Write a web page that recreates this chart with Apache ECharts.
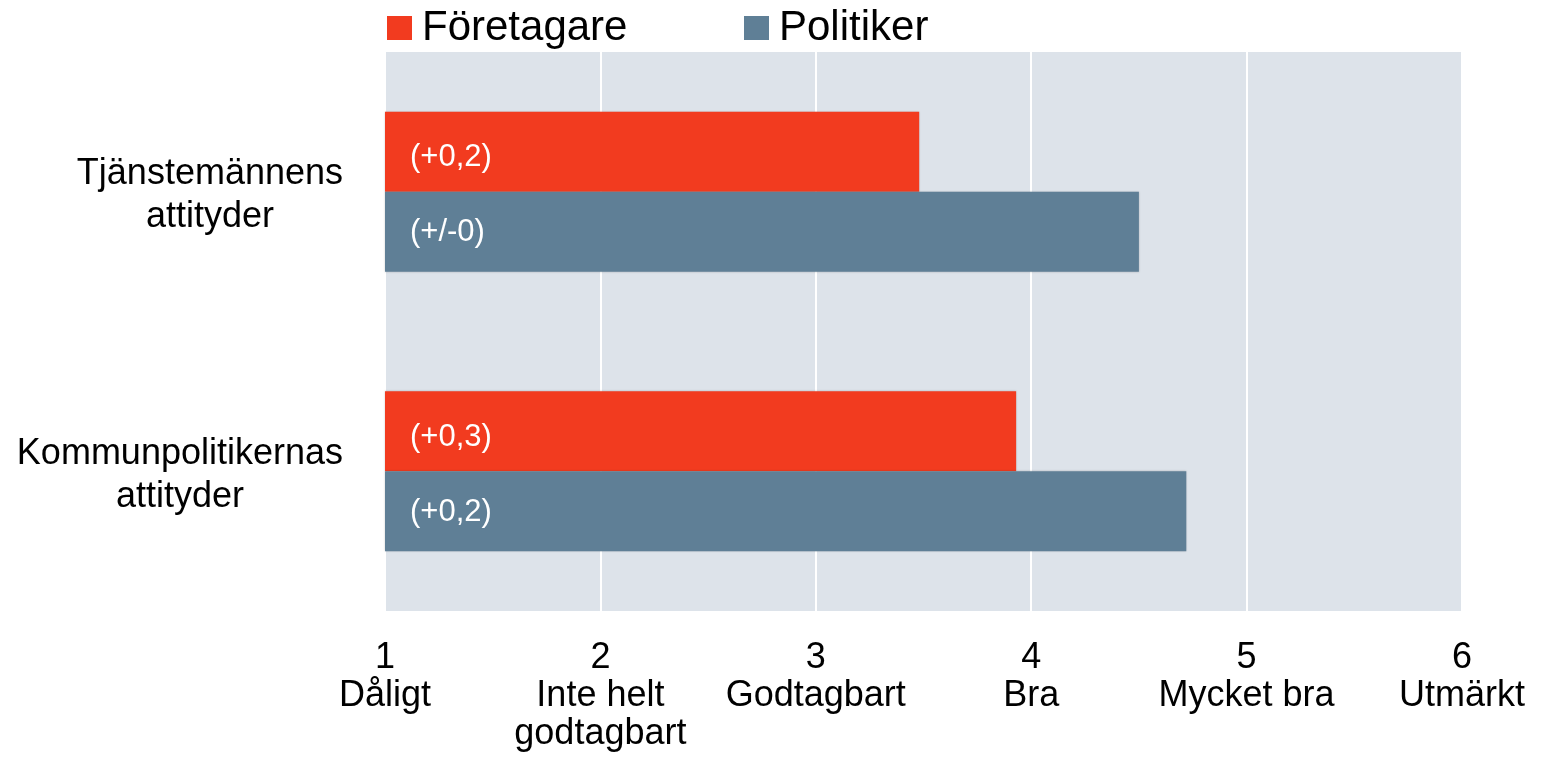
<!DOCTYPE html>
<html>
<head>
<meta charset="utf-8">
<script src="https://cdn.jsdelivr.net/npm/echarts@6/dist/echarts.min.js"></script>
<style>
  html, body { margin: 0; padding: 0; background: #fff; }
  #chart { width: 1546px; height: 763px; }
</style>
</head>
<body>
<div id="chart"></div>
<script>
var categories = ['Tjänstemännens\nattityder', 'Kommunpolitikernas\nattityder'];
var foretagare = [3.48, 3.93];
var politiker = [4.50, 4.72];
var foretagareLabels = ['(+0,2)', '(+0,3)'];
var politikerLabels = ['(+/-0)', '(+0,2)'];
var scaleLabels = { 1: 'Dåligt', 2: 'Inte helt\ngodtagbart', 3: 'Godtagbart', 4: 'Bra', 5: 'Mycket bra', 6: 'Utmärkt' };

var font = 'Liberation Sans, Arial, sans-serif';
var chart = echarts.init(document.getElementById('chart'));

function barLabel(texts, dy) {
    return {
        show: true,
        position: 'insideLeft',
        distance: 25,
        offset: [0, dy],
        color: '#fff',
        fontSize: 31,
        fontFamily: font,
        formatter: function (p) { return texts[p.dataIndex]; }
    };
}

function legendAt(x, name) {
    return {
        left: x, top: 3, padding: 0,
        itemWidth: 25, itemHeight: 24,
        icon: 'rect',
        textStyle: { fontSize: 42, lineHeight: 44, color: '#000', padding: [6, 0, 0, 5] },
        data: [name]
    };
}

chart.setOption({
    animation: false,
    textStyle: { fontFamily: font },
    legend: [legendAt(387, 'Företagare'), legendAt(744, 'Politiker')],
    grid: {
        left: 385, right: 84, top: 52, bottom: 152,
        show: true, backgroundColor: '#dde3ea', borderWidth: 0
    },
    xAxis: {
        type: 'value',
        min: 1, max: 6, interval: 1,
        axisLine: { show: false },
        axisTick: { show: false },
        splitLine: { lineStyle: { color: '#fff', width: 2 } },
        axisLabel: {
            color: '#000', fontSize: 36, lineHeight: 38, margin: 28,
            showMinLabel: true, showMaxLabel: true,
            formatter: function (v) { return v + '\n' + scaleLabels[v]; }
        }
    },
    yAxis: {
        type: 'category',
        inverse: true,
        data: categories,
        axisLine: { show: false },
        axisTick: { show: false },
        axisLabel: {
            margin: 42,
            padding: [8, 0, 0, 0],
            formatter: function (v) {
                return v.split('\n').map(function (s) { return '{c|' + s + '}'; }).join('\n');
            },
            rich: {
                c: { align: 'center', fontSize: 36, lineHeight: 43, color: '#000', fontFamily: font }
            }
        }
    },
    series: [{
        name: 'Företagare',
        type: 'bar',
        data: foretagare,
        barGap: 0,
        barCategoryGap: '42.7%',
        itemStyle: { color: '#f23b1f', shadowColor: 'rgba(0,0,0,0.2)', shadowBlur: 2 },
        label: barLabel(foretagareLabels, 6)
    }, {
        name: 'Politiker',
        type: 'bar',
        data: politiker,
        itemStyle: { color: '#5f7f96', shadowColor: 'rgba(0,0,0,0.2)', shadowBlur: 2 },
        label: barLabel(politikerLabels, 1)
    }]
});
</script>
</body>
</html>
